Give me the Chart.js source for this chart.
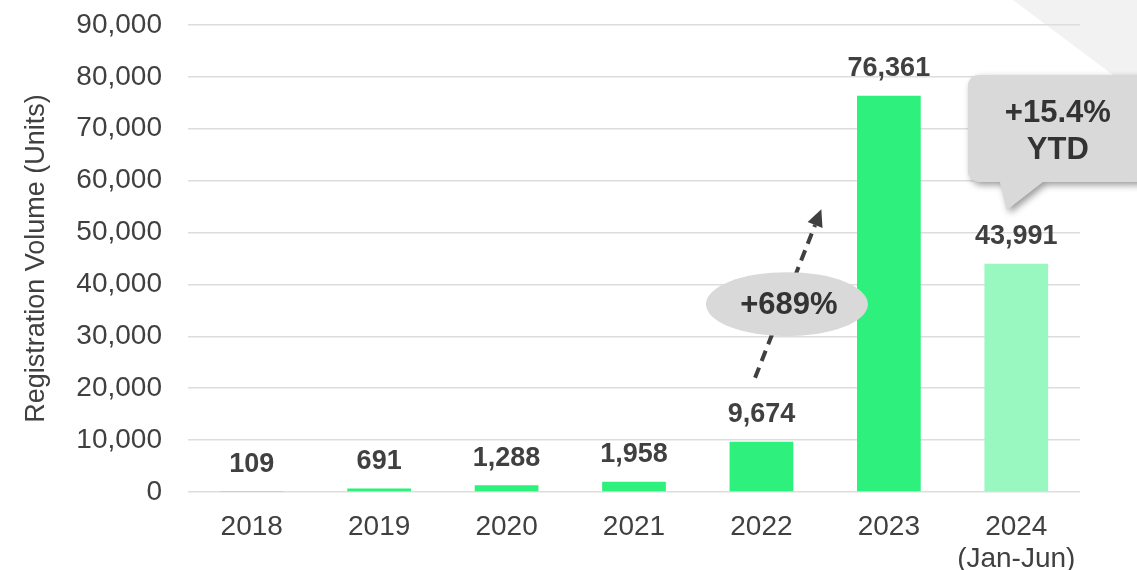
<!DOCTYPE html>
<html>
<head>
<meta charset="utf-8">
<script src="https://cdn.jsdelivr.net/npm/chart.js@4"></script>
<style>
  html, body { margin: 0; padding: 0; background: #fff; }
  #wrap { width: 1137px; height: 570px; }
</style>
</head>
<body>
<div id="wrap"><canvas id="chart"></canvas></div>
<script>
const years = ['2018', '2019', '2020', '2021', '2022', '2023', ['2024', '(Jan-Jun)']]
const volumes = [109, 691, 1288, 1958, 9674, 76361, 43991]
const yMax = 90000
const yStep = 10000
const growthText = '+689%'
const ytdText = ['+15.4%', 'YTD']

const green = '#2EF07C'
const lightGreen = '#98F8C0'
const textColor = '#404040'
const font = '"Liberation Sans", Arial, sans-serif'

const fmt = v => v.toLocaleString('en-US')

// slide decoration in the top right corner
const backdrop = {
  id: 'backdrop',
  beforeDraw (chart) {
    const { ctx, width } = chart
    ctx.save()
    ctx.fillStyle = '#F2F2F2'
    ctx.beginPath()
    ctx.moveTo(1013, 0)
    ctx.lineTo(width, 0)
    ctx.lineTo(width, 93)
    ctx.closePath()
    ctx.fill()
    ctx.restore()
  }
}

const valueLabels = {
  id: 'valueLabels',
  afterDatasetsDraw (chart) {
    const { ctx } = chart
    const meta = chart.getDatasetMeta(0)
    ctx.save()
    ctx.font = 'bold 27px ' + font
    ctx.fillStyle = textColor
    ctx.textAlign = 'center'
    ctx.textBaseline = 'middle'
    meta.data.forEach((bar, i) => {
      ctx.fillText(fmt(volumes[i]), bar.x, bar.y - 27)
    })
    ctx.restore()
  }
}

const callouts = {
  id: 'callouts',
  afterDraw (chart) {
    const { ctx } = chart
    const x = chart.scales.x
    const y = chart.scales.y
    const px = i => x.getPixelForValue(i)
    const py = v => y.getPixelForValue(v)

    ctx.save()

    // dashed growth arrow 2022 -> 2023
    const x0 = px(3.95); const y0 = py(22000)
    const x1 = px(4.47); const y1 = py(54500)
    const ang = Math.atan2(y1 - y0, x1 - x0)
    const headLen = 17
    ctx.strokeStyle = '#404040'
    ctx.fillStyle = '#404040'
    ctx.lineWidth = 4
    ctx.setLineDash([11, 7])
    ctx.beginPath()
    ctx.moveTo(x0, y0)
    ctx.lineTo(x1 - Math.cos(ang) * headLen, y1 - Math.sin(ang) * headLen)
    ctx.stroke()
    ctx.setLineDash([])
    ctx.beginPath()
    ctx.moveTo(x1, y1)
    ctx.lineTo(x1 - Math.cos(ang) * headLen + Math.sin(ang) * 8, y1 - Math.sin(ang) * headLen - Math.cos(ang) * 8)
    ctx.lineTo(x1 - Math.cos(ang) * headLen - Math.sin(ang) * 8, y1 - Math.sin(ang) * headLen + Math.cos(ang) * 8)
    ctx.closePath()
    ctx.fill()

    // ellipse with growth figure
    const ex = px(4.2); const ey = py(36200)
    ctx.fillStyle = '#D9D9D9'
    ctx.beginPath()
    ctx.ellipse(ex, ey, 81, 32, 0, 0, Math.PI * 2)
    ctx.fill()
    ctx.font = 'bold 31px ' + font
    ctx.fillStyle = '#333333'
    ctx.textAlign = 'center'
    ctx.textBaseline = 'middle'
    ctx.fillText(growthText, ex + 2, ey + 1)

    // speech bubble for YTD growth
    const bl = px(5.62); const br = bl + 180
    const bt = py(80350); const bb = py(59730)
    const tipX = px(5.925); const tipY = py(54300)
    const r = 11
    ctx.save()
    ctx.shadowColor = 'rgba(0,0,0,0.4)'
    ctx.shadowBlur = 7
    ctx.shadowOffsetX = 3
    ctx.shadowOffsetY = 3
    ctx.fillStyle = '#D9D9D9'
    ctx.beginPath()
    ctx.moveTo(bl + r, bt)
    ctx.lineTo(br - r, bt)
    ctx.arcTo(br, bt, br, bt + r, r)
    ctx.lineTo(br, bb - r)
    ctx.arcTo(br, bb, br - r, bb, r)
    ctx.lineTo(bl + 75, bb)
    ctx.lineTo(tipX, tipY)
    ctx.lineTo(bl + 32, bb)
    ctx.lineTo(bl + r, bb)
    ctx.arcTo(bl, bb, bl, bb - r, r)
    ctx.lineTo(bl, bt + r)
    ctx.arcTo(bl, bt, bl + r, bt, r)
    ctx.closePath()
    ctx.fill()
    ctx.restore()

    ctx.font = 'bold 31px ' + font
    ctx.fillStyle = '#333333'
    ctx.textAlign = 'center'
    ctx.textBaseline = 'middle'
    const cx = (bl + br) / 2
    ctx.fillText(ytdText[0], cx, bt + 38)
    ctx.fillText(ytdText[1], cx, bt + 75)

    ctx.restore()
  }
}

new Chart(document.getElementById('chart'), {
  type: 'bar',
  data: {
    labels: years,
    datasets: [{
      data: volumes,
      backgroundColor: volumes.map((v, i) => i === volumes.length - 1 ? lightGreen : green),
      barPercentage: 0.5,
      categoryPercentage: 1
    }]
  },
  options: {
    responsive: true,
    maintainAspectRatio: false,
    animation: false,
    layout: { padding: { top: 25, right: 57, left: 0, bottom: 0 } },
    plugins: {
      legend: { display: false },
      tooltip: { enabled: false }
    },
    scales: {
      x: {
        grid: { display: false },
        border: { display: false },
        ticks: {
          color: textColor,
          font: { family: font, size: 28, lineHeight: 1.15 },
          padding: 11,
          maxRotation: 0,
          autoSkip: false
        },
        afterFit (scale) { scale.height = 78 }
      },
      y: {
        min: 0,
        max: yMax,
        grid: { color: '#DDDDDD', lineWidth: 1.5, drawTicks: false },
        border: { display: false },
        ticks: {
          stepSize: yStep,
          color: textColor,
          font: { family: font, size: 28 },
          padding: 26,
          callback: v => fmt(v)
        },
        title: {
          display: true,
          text: 'Registration Volume (Units)',
          color: textColor,
          font: { family: font, size: 27, lineHeight: 1.2 },
          padding: { top: 20, bottom: 0 }
        },
        afterFit (scale) {
          scale.width = 188
          scale.paddingTop = 0
          scale.paddingBottom = 0
        }
      }
    }
  },
  plugins: [backdrop, valueLabels, callouts]
})
</script>
</body>
</html>
